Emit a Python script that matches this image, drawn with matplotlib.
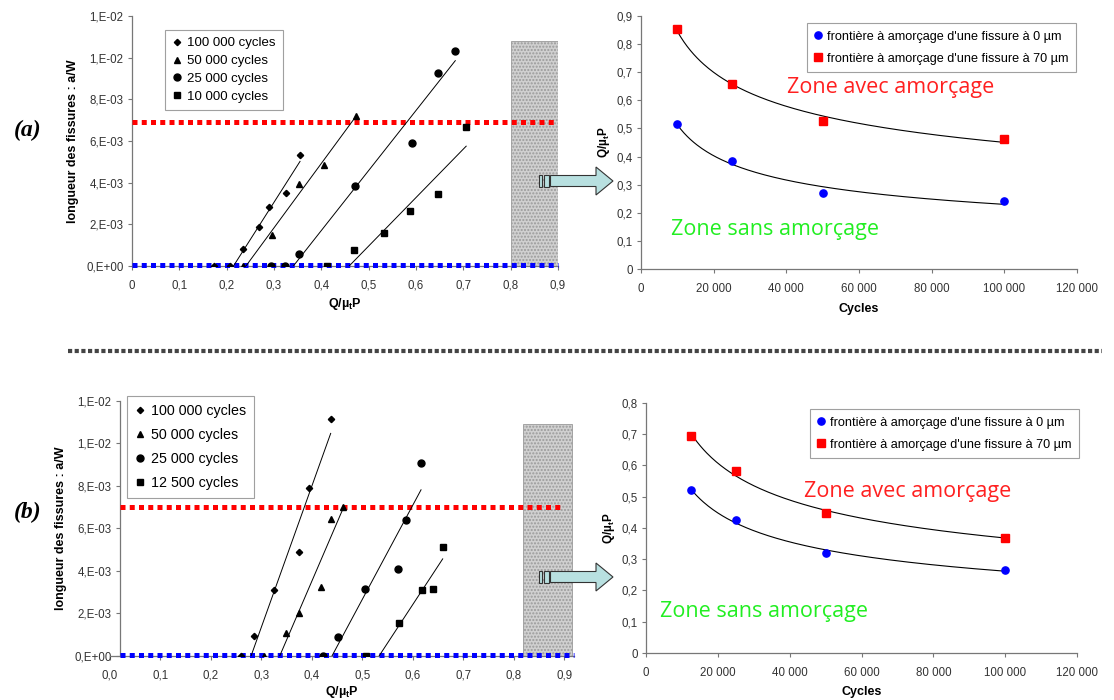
import numpy as np
import matplotlib
matplotlib.use("Agg")
import matplotlib.pyplot as plt
from matplotlib.patches import Rectangle, Polygon
from matplotlib.lines import Line2D

plt.rcParams['font.family'] = ['Liberation Sans', 'DejaVu Sans']
plt.rcParams['mathtext.fontset'] = 'custom'
plt.rcParams['mathtext.rm'] = 'Liberation Sans'
plt.rcParams['mathtext.bf'] = 'Liberation Sans:bold'

# ---------------- data, panel (a)
a_labels = ["100 000 cycles", "50 000 cycles", "25 000 cycles", "10 000 cycles"]
a_x = [
    [0.173, 0.207, 0.235, 0.269, 0.290, 0.325, 0.355],
    [0.235, 0.296, 0.353, 0.406, 0.473],
    [0.293, 0.324, 0.353, 0.471, 0.591, 0.646, 0.683],
    [0.413, 0.470, 0.533, 0.587, 0.647, 0.706],
]
a_y = [
    [0, 0, 0.00083, 0.00189, 0.00282, 0.00349, 0.00533],
    [0, 0.0015, 0.00393, 0.00484, 0.0072],
    [0, 0, 0.00059, 0.00385, 0.00592, 0.00926, 0.01033],
    [0, 0.00078, 0.00158, 0.00263, 0.00344, 0.00667],
]
a_red_level = 0.0069
a_cycles = [10000, 25000, 50000, 100000]
a_q0 = [0.517, 0.384, 0.269, 0.241]
a_q70 = [0.855, 0.658, 0.525, 0.462]

# ---------------- data, panel (b)
b_labels = ["100 000 cycles", "50 000 cycles", "25 000 cycles", "12 500 cycles"]
b_x = [
    [0.260, 0.2865, 0.326, 0.3756, 0.3947, 0.4376],
    [0.3056, 0.349, 0.3756, 0.418, 0.4376, 0.461],
    [0.4218, 0.4528, 0.5063, 0.5716, 0.5861, 0.6165],
    [0.5076, 0.5723, 0.6178, 0.6396, 0.6594],
]
b_y = [
    [0, 0.00093, 0.00309, 0.00486, 0.00787, 0.01114],
    [0, 0.00108, 0.00199, 0.00325, 0.00643, 0.00698],
    [0, 0.00089, 0.00315, 0.00406, 0.00638, 0.00907],
    [0, 0.00155, 0.00307, 0.00312, 0.0051],
]
b_red_level = 0.0070
b_cycles = [12500, 25000, 50000, 100000]
b_q0 = [0.520, 0.4255, 0.321, 0.264]
b_q70 = [0.694, 0.582, 0.447, 0.369]

blue_level = 0.00005
markers = ['D', '^', 'o', 's']
marker_sizes = [3.2, 4.8, 5, 4.3]

crack_yticks = [0, 0.002, 0.004, 0.006, 0.008, 0.010, 0.012]
crack_ylabels = ["0,E+00", "2,E-03", "4,E-03", "6,E-03", "8,E-03", "1,E-02", "1,E-02"]
q_xticks = [0, 0.1, 0.2, 0.3, 0.4, 0.5, 0.6, 0.7, 0.8, 0.9]
q_xlabels_a = ["0", "0,1", "0,2", "0,3", "0,4", "0,5", "0,6", "0,7", "0,8", "0,9"]
q_xlabels_b = ["0,0", "0,1", "0,2", "0,3", "0,4", "0,5", "0,6", "0,7", "0,8", "0,9"]
cyc_xticks = [0, 20000, 40000, 60000, 80000, 100000, 120000]
cyc_xlabels = ["0", "20 000", "40 000", "60 000", "80 000", "100 000", "120 000"]
leg0 = "frontière à amorçage d'une fissure à 0 µm"
leg70 = "frontière à amorçage d'une fissure à 70 µm"
qlabel = r"Q/µ$_\mathbf{t}$P"

W, H = 1114, 700
fig = plt.figure(figsize=(W / 100, H / 100), dpi=100)


def box(l, r, t, b):
    return [l / W, 1 - b / H, (r - l) / W, (b - t) / H]


def style(ax):
    for s in ['top', 'right']:
        ax.spines[s].set_visible(False)
    for s in ['left', 'bottom']:
        ax.spines[s].set_color('#777777')
        ax.spines[s].set_linewidth(0.9)
    ax.tick_params(length=3, width=0.8, color='#777777', labelsize=8.3,
                   labelcolor='#333333', pad=3)


def crack_panel(ax, xs, ys, labels, red_level, xmin, xmax, xlabels, box_x, leg_box,
                xlabelpad):
    style(ax)
    handles = []
    for i in range(4):
        x = np.array(xs[i])
        y = np.array(ys[i])
        ax.plot(x, y, linestyle='none', marker=markers[i], ms=marker_sizes[i],
                color='black', zorder=5)
        # linear trend on the cracked points, drawn from its zero crossing
        nz = y > 0
        k, c = np.polyfit(x[nz], y[nz], 1)
        x0 = -c / k
        xl = np.array([x0, x.max()])
        ax.plot(xl, k * xl + c, color='black', lw=0.7, zorder=4)
        handles.append(Line2D([], [], linestyle='none', marker=markers[i],
                              ms=marker_sizes[i], color='black'))
    ax.add_patch(Rectangle((box_x[0], 0), box_x[1] - box_x[0], box_x[2],
                           facecolor='#d0d0d0', edgecolor='#9a9a9a',
                           hatch='.....', lw=0.6, zorder=1))
    ax.plot([xmin, 0.9], [red_level, red_level], color='#ff0000', lw=3.6,
            dashes=(1, 0.85), zorder=3)
    ax.plot([xmin, xmax], [blue_level, blue_level], color='#0000ff', lw=3.6,
            dashes=(1, 0.85), zorder=3, clip_on=False)
    ax.set_xlim(0, xmax)
    ax.set_ylim(0, 0.012)
    ax.spines['left'].set_position(('data', xmin))
    ax.set_xticks(q_xticks)
    ax.set_xticklabels(xlabels)
    ax.set_yticks(crack_yticks)
    ax.set_yticklabels(crack_ylabels)
    ax.tick_params(axis='x', pad=7)
    ax.set_xlabel(qlabel, fontsize=9, fontweight='bold', labelpad=xlabelpad)
    ax.set_ylabel("longueur des fissures : a/W", fontsize=9, fontweight='bold',
                  labelpad=5)
    leg = ax.legend(handles, labels, loc='upper left', fontsize=leg_box[2],
                    bbox_to_anchor=(leg_box[0] / W, 1 - leg_box[1] / H),
                    bbox_transform=fig.transFigure, borderaxespad=0,
                    handlelength=0.7, handletextpad=0.4, labelspacing=leg_box[3],
                    borderpad=0.55, frameon=True, fancybox=False)
    leg.get_frame().set_edgecolor('#888888')
    leg.get_frame().set_linewidth(0.8)


def q_panel(ax, cycles, q0, q70, ymax, leg_pos, red_pos, green_pos, xlabelpad):
    style(ax)
    for vals, col, mk in [(q0, '#0000ff', 'o'), (q70, '#ff0000', 's')]:
        c = np.array(cycles, dtype=float)
        v = np.array(vals)
        # power-law trend
        b, lna = np.polyfit(np.log(c), np.log(v), 1)
        cc = np.linspace(c.min(), c.max(), 200)
        ax.plot(cc, np.exp(lna) * cc ** b, color='black', lw=0.8, zorder=3)
        ax.plot(c, v, linestyle='none', marker=mk, ms=5.2, color=col, zorder=5)
    ax.set_xlim(0, 120000)
    ax.set_ylim(0, ymax)
    ax.set_xticks(cyc_xticks)
    ax.set_xticklabels(cyc_xlabels)
    ax.set_yticks(np.arange(0, ymax + 0.001, 0.1))
    ax.set_yticklabels(["0"] + ["0,%d" % i for i in range(1, int(round(ymax * 10)) + 1)])
    ax.tick_params(axis='x', pad=7)
    ax.set_xlabel("Cycles", fontsize=9, fontweight='bold', labelpad=xlabelpad)
    ax.set_ylabel(qlabel, fontsize=8.5, fontweight='bold', labelpad=3)
    h0 = Line2D([], [], linestyle='none', marker='o', ms=5.2, color='#0000ff')
    h70 = Line2D([], [], linestyle='none', marker='s', ms=5.2, color='#ff0000')
    leg = ax.legend([h0, h70], [leg0, leg70], loc='upper left', fontsize=9.1,
                    bbox_to_anchor=(leg_pos[0] / W, 1 - leg_pos[1] / H),
                    bbox_transform=fig.transFigure, borderaxespad=0,
                    handlelength=0.6, handletextpad=0.4, labelspacing=0.8,
                    borderpad=0.6, frameon=True, fancybox=False)
    leg.get_frame().set_edgecolor('#888888')
    leg.get_frame().set_linewidth(0.8)
    fig.text(red_pos[0] / W, 1 - red_pos[1] / H, "Zone avec amorçage",
             color='#ff2020', fontsize=15.5, family='Open Sans', va='center')
    fig.text(green_pos[0] / W, 1 - green_pos[1] / H, "Zone sans amorçage",
             color='#22ee22', fontsize=15.5, family='Open Sans', va='center')


def arrow(yc):
    # small "II" tail then the fat arrow
    fig.patches.append(Rectangle(((539) / W, 1 - (yc + 6) / H), 3 / W, 12 / H,
                                 transform=fig.transFigure, facecolor='#b8e0e0',
                                 edgecolor='#333333', lw=0.8))
    fig.patches.append(Rectangle(((543.5) / W, 1 - (yc + 6) / H), 5.5 / W, 12 / H,
                                 transform=fig.transFigure, facecolor='#b8e0e0',
                                 edgecolor='#333333', lw=0.8))
    pts = [(550.5, yc - 5.5), (596, yc - 5.5), (596, yc - 14), (613, yc),
           (596, yc + 14), (596, yc + 5.5), (550.5, yc + 5.5)]
    fig.patches.append(Polygon([(x / W, 1 - y / H) for x, y in pts], closed=True,
                               transform=fig.transFigure, facecolor='#b8e0e0',
                               edgecolor='#333333', lw=0.8))


# (a)
ax1 = fig.add_axes(box(132, 558, 16, 266))
crack_panel(ax1, a_x, a_y, a_labels, a_red_level, 0, 0.9, q_xlabels_a,
            (0.8, 0.9, 0.0108), (165, 30, 9.5, 0.42), 3)
ax2 = fig.add_axes(box(641, 1077, 16, 269))
q_panel(ax2, a_cycles, a_q0, a_q70, 0.9, (807, 23), (787, 87), (671, 230), 6)
arrow(181)

# (b)
ax3 = fig.add_axes(box(109.7, 574.3, 400.7, 655.7))
crack_panel(ax3, b_x, b_y, b_labels, b_red_level, 0.02, 0.92, q_xlabels_b,
            (0.819, 0.916, 0.01089), (127, 396, 10.3, 0.7), 1.5)
ax4 = fig.add_axes(box(646, 1077, 402.7, 653))
q_panel(ax4, b_cycles, b_q0, b_q70, 0.8, (810, 409), (804, 492), (660, 611), 5)
arrow(577)

# separator and panel tags
fig.add_artist(Line2D([68 / W, 1102 / W], [1 - 351 / H, 1 - 351 / H],
                      color='#444444', lw=3, dashes=(1, 0.6)))
fig.text(28 / W, 1 - 130 / H, "(a)", fontsize=17, fontweight='bold',
         fontstyle='italic', family='Liberation Serif', ha='center', va='center')
fig.text(28 / W, 1 - 512 / H, "(b)", fontsize=17, fontweight='bold',
         fontstyle='italic', family='Liberation Serif', ha='center', va='center')

fig.savefig("out.png", dpi=100)
